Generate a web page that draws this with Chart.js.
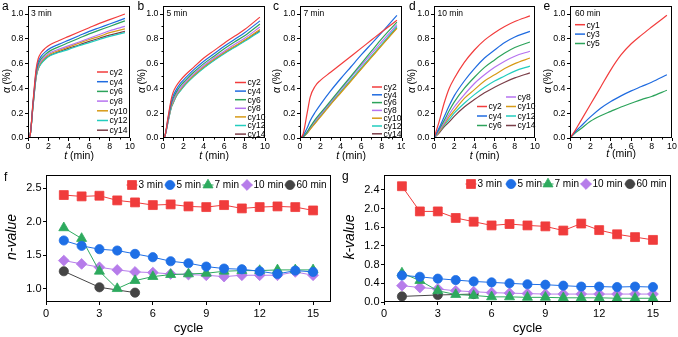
<!DOCTYPE html>
<html><head><meta charset="utf-8">
<script src="https://cdn.jsdelivr.net/npm/chart.js@4.4.1/dist/chart.umd.min.js"></script>
<style>
html,body{margin:0;padding:0;background:#fff;}
#wrap{position:relative;width:678px;height:337px;overflow:hidden;background:#fff;}
canvas{position:absolute;}
</style></head><body><div id="wrap"></div>
<script>
// ---------------- DATA ----------------
const cyLabels = ['cy2','cy4','cy6','cy8','cy10','cy12','cy14'];
const eLabels = ['cy1','cy3','cy5'];
const tickX10 = [0,2,4,6,8,10];
const minorX10 = [1,3,5,7,9];
const tickAlpha = [0,0.2,0.4,0.6,0.8,1.0];
const minorAlpha = [0.1,0.3,0.5,0.7,0.9];

// panel a (3 min)
const tA = [0,0.2,0.5,0.8,1.0,1.3,1.7,2.2,3,4,5,6,7,8,9.5];
const aCy2  = [0,0.02,0.30,0.56,0.64,0.69,0.725,0.755,0.785,0.82,0.855,0.89,0.925,0.955,1.0];
const aCy4  = [0,0.02,0.29,0.54,0.615,0.66,0.695,0.725,0.755,0.79,0.825,0.86,0.89,0.92,0.965];
const aCy6  = [0,0.02,0.28,0.525,0.595,0.64,0.675,0.705,0.735,0.77,0.805,0.84,0.87,0.90,0.945];
const aCy8  = [0,0.02,0.275,0.51,0.58,0.625,0.66,0.69,0.715,0.745,0.775,0.805,0.835,0.865,0.90];
const aCy10 = [0,0.02,0.27,0.50,0.57,0.615,0.65,0.68,0.705,0.735,0.765,0.795,0.82,0.85,0.88];
const aCy12 = [0,0.02,0.26,0.49,0.555,0.60,0.635,0.665,0.69,0.715,0.745,0.77,0.795,0.82,0.85];
const aCy14 = [0,0.02,0.265,0.495,0.56,0.605,0.64,0.67,0.695,0.725,0.75,0.78,0.805,0.83,0.86];

// panel b (5 min)
const tB = [0,0.2,0.5,0.8,1.0,1.3,1.7,2.2,3,4,5,6,7,8,9.5];
const bCy2  = [0,0.02,0.17,0.31,0.37,0.42,0.465,0.51,0.57,0.645,0.705,0.765,0.82,0.875,0.975];
const bCy4  = [0,0.02,0.16,0.29,0.34,0.39,0.44,0.485,0.55,0.62,0.68,0.74,0.795,0.85,0.945];
const bCy6  = [0,0.02,0.15,0.27,0.32,0.37,0.42,0.465,0.53,0.60,0.66,0.72,0.775,0.825,0.92];
const bCy8  = [0,0.02,0.14,0.26,0.30,0.355,0.40,0.45,0.515,0.585,0.645,0.70,0.755,0.805,0.895];
const bCy10 = [0,0.02,0.14,0.25,0.29,0.345,0.39,0.44,0.505,0.575,0.635,0.69,0.74,0.79,0.875];
const bCy12 = [0,0.02,0.13,0.24,0.28,0.335,0.38,0.43,0.495,0.565,0.625,0.68,0.73,0.78,0.86];
const bCy14 = [0,0.02,0.135,0.245,0.285,0.34,0.385,0.435,0.50,0.57,0.63,0.685,0.735,0.785,0.865];

// panel c (7 min)
const tC = [0,0.3,0.7,1,1.5,2,3,4,5,6,7,8,9.5];
const cCy2  = [0,0.03,0.20,0.33,0.42,0.465,0.53,0.595,0.66,0.725,0.79,0.855,0.95];
const cCy4  = [0,0.02,0.08,0.14,0.21,0.27,0.38,0.48,0.575,0.67,0.76,0.85,0.99];
const cCy6  = [0,0.01,0.05,0.09,0.15,0.20,0.30,0.40,0.50,0.60,0.70,0.80,0.935];
const cCy8  = [0,0.01,0.05,0.085,0.14,0.19,0.29,0.39,0.49,0.585,0.68,0.775,0.915];
const cCy10 = [0,0.01,0.04,0.07,0.12,0.17,0.27,0.365,0.46,0.555,0.65,0.745,0.885];
const cCy12 = [0,0.01,0.045,0.08,0.13,0.18,0.28,0.375,0.47,0.565,0.66,0.755,0.90];
const cCy14 = [0,0.01,0.04,0.075,0.125,0.175,0.275,0.37,0.465,0.56,0.655,0.75,0.89];

// panel d (10 min)
const tD = [0,0.5,1,1.5,2,3,4,5,6,7,8,9.5];
const dCy2  = [0,0.13,0.28,0.40,0.48,0.61,0.71,0.79,0.85,0.90,0.94,0.985];
const dCy4  = [0,0.08,0.17,0.26,0.34,0.46,0.56,0.645,0.71,0.77,0.815,0.86];
const dCy6  = [0,0.07,0.14,0.22,0.29,0.40,0.49,0.57,0.63,0.685,0.73,0.775];
const dCy8  = [0,0.06,0.12,0.19,0.25,0.35,0.44,0.51,0.57,0.62,0.66,0.70];
const dCy10 = [0,0.05,0.11,0.17,0.22,0.32,0.39,0.46,0.51,0.56,0.60,0.645];
const dCy12 = [0,0.05,0.10,0.15,0.20,0.28,0.35,0.41,0.46,0.50,0.54,0.58];
const dCy14 = [0,0.04,0.09,0.13,0.175,0.25,0.31,0.365,0.41,0.45,0.485,0.525];

// panel e (60 min)
const tE = [0,0.5,1,2,3,4,5,6,7,8,9.5];
const eCy1 = [0,0.06,0.13,0.27,0.41,0.55,0.67,0.76,0.83,0.895,0.99];
const eCy3 = [0,0.05,0.09,0.17,0.24,0.295,0.34,0.38,0.415,0.45,0.51];
const eCy5 = [0,0.04,0.07,0.135,0.18,0.215,0.25,0.28,0.31,0.335,0.385];

// panels f, g
const seriesLabels = ['3 min','5 min','7 min','10 min','60 min'];
const cycles = [1,2,3,4,5,6,7,8,9,10,11,12,13,14,15];
const cycles60 = [1,3,5];
const tickCycle = [0,3,6,9,12,15];
const nVal3  = [2.40,2.38,2.39,2.32,2.29,2.25,2.26,2.23,2.22,2.25,2.20,2.22,2.23,2.22,2.17];
const nVal5  = [1.72,1.64,1.59,1.57,1.52,1.47,1.41,1.38,1.33,1.30,1.29,1.26,1.22,1.27,1.25];
const nVal7  = [1.91,1.75,1.26,1.00,1.12,1.18,1.21,1.22,1.23,1.26,1.27,1.27,1.28,1.28,1.28];
const nVal10 = [1.42,1.37,1.32,1.28,1.25,1.24,1.22,1.21,1.20,1.18,1.20,1.20,1.20,1.25,1.20];
const nVal60 = [1.26,1.02,0.94];
const tickN = [1.0,1.5,2.0,2.5];
const kVal3  = [2.48,1.94,1.94,1.80,1.72,1.64,1.67,1.64,1.62,1.53,1.68,1.54,1.45,1.39,1.33];
const kVal5  = [0.57,0.54,0.50,0.47,0.44,0.42,0.40,0.38,0.37,0.35,0.33,0.33,0.32,0.33,0.32];
const kVal7  = [0.62,0.46,0.24,0.16,0.14,0.11,0.11,0.10,0.10,0.09,0.09,0.09,0.08,0.08,0.08];
const kVal10 = [0.35,0.31,0.28,0.24,0.22,0.20,0.19,0.18,0.17,0.17,0.17,0.17,0.17,0.17,0.17];
const kVal60 = [0.12,0.15,0.17];
const tickK = [0,0.4,0.8,1.2,1.6,2.0,2.4];

// ---------------- STYLE ----------------
const FONT = "'Liberation Sans', Arial, Helvetica, sans-serif";
const cyColors = ['#F23C3C','#1F6BE0','#2CA35B','#B673F0','#D79A16','#22CDBE','#7A3E48'];
const eColors = ['#F23C3C','#1F6BE0','#2CA35B'];
const fgColors = ['#F03C3C','#1E6FE6','#2DAA5E','#B67CEA','#454545'];
const fgStyles = ['rect','circle','triangle','rectRot','circle'];
const fgRadius = [6.3,4.6,5.8,5.4,4.6];

const wrap = document.getElementById('wrap');

function curveSets(tArr, series, labels, colors){
  return series.map((s,i)=>({
    label: labels[i],
    data: tArr.map((t,j)=>({x:t, y:s[j]})),
    borderColor: colors[i], backgroundColor: colors[i],
    borderWidth: 1.2, pointRadius: 0, fill:false,
    cubicInterpolationMode: 'monotone'
  }));
}
function markerSets(xsList, series){
  return series.map((s,i)=>({
    label: seriesLabels[i],
    data: xsList[i].map((c,j)=>({x:c, y:s[j]})),
    borderColor: fgColors[i], backgroundColor: fgColors[i],
    borderWidth: 1, pointStyle: fgStyles[i], pointRadius: fgRadius[i],
    pointBorderWidth: 0.8, tension: 0, fill:false
  }));
}

function drawParts(ctx, parts, x, y, size, rotate){
  const widths = parts.map(p=>{ctx.font=(p.i?'italic ':'')+size+'px '+FONT; return ctx.measureText(p.t).width;});
  const total = widths.reduce((a,b)=>a+b,0);
  ctx.save(); ctx.translate(x,y); if(rotate) ctx.rotate(-Math.PI/2);
  ctx.textBaseline='middle'; ctx.textAlign='left'; ctx.fillStyle='#000';
  let cx = -total/2;
  parts.forEach((p,k)=>{ctx.font=(p.i?'italic ':'')+size+'px '+FONT; ctx.fillText(p.t,cx,0); cx+=widths[k];});
  ctx.restore();
}

function drawMarker(ctx, style, r, x, y, color){
  const H = Chart.helpers;
  if (H && H.drawPoint){
    ctx.save(); ctx.fillStyle=color; ctx.strokeStyle=color; ctx.lineWidth=0.8;
    H.drawPoint(ctx,{pointStyle:style, radius:r, rotation:0, borderWidth:0.8},x,y);
    ctx.restore();
  } else {
    ctx.save(); ctx.fillStyle=color; ctx.beginPath(); ctx.arc(x,y,r,0,Math.PI*2); ctx.fill(); ctx.restore();
  }
}

function makeDecor(d){
  return {
    id:'decor',
    afterDraw(chart){
      const ctx = chart.ctx, a = chart.chartArea;
      ctx.save();
      // frame
      ctx.strokeStyle='#000'; ctx.lineWidth=1;
      const L=Math.round(a.left)+0.5, T=Math.round(a.top)+0.5, R=Math.round(a.right)-0.5, B=Math.round(a.bottom)-0.5;
      ctx.strokeRect(L,T,R-L,B-T);
      // minor ticks (outward)
      if(d.minor){
        ctx.beginPath();
        d.minor.x.forEach(v=>{const px=Math.round(chart.scales.x.getPixelForValue(v))+0.5; ctx.moveTo(px,B); ctx.lineTo(px,B+2);});
        d.minor.y.forEach(v=>{const py=Math.round(chart.scales.y.getPixelForValue(v))+0.5; ctx.moveTo(L,py); ctx.lineTo(L-2,py);});
        ctx.stroke();
      }
      // letter
      ctx.fillStyle='#000'; ctx.textAlign='left'; ctx.textBaseline='alphabetic';
      ctx.font=d.letter.size+'px '+FONT; ctx.fillText(d.letter.t,d.letter.x,d.letter.y);
      // note
      if(d.note){ ctx.font=d.note.size+'px '+FONT; ctx.textBaseline='middle'; ctx.fillText(d.note.t,d.note.x,d.note.y); }
      // titles
      drawParts(ctx,d.xTitle.parts,(a.left+a.right)/2,d.xTitle.y,d.xTitle.size,false);
      drawParts(ctx,d.yTitle.parts,d.yTitle.x,d.yTitle.y,d.yTitle.size,true);
      // legend
      const ds = chart.data.datasets;
      if(d.lineLegend){
        const lg=d.lineLegend;
        ctx.font=lg.size+'px '+FONT; ctx.textBaseline='middle'; ctx.textAlign='left';
        lg.items.forEach(it=>{
          const s=ds[it.i];
          ctx.strokeStyle=s.borderColor; ctx.lineWidth=1.5;
          ctx.beginPath(); ctx.moveTo(it.x,it.y); ctx.lineTo(it.x+lg.len,it.y); ctx.stroke();
          ctx.fillStyle='#000'; ctx.fillText(s.label,it.x+lg.len+1.5,it.y+0.5);
        });
      }
      if(d.markLegend){
        const lg=d.markLegend;
        ctx.font=lg.size+'px '+FONT; ctx.textBaseline='middle'; ctx.textAlign='left';
        lg.xs.forEach((mx,i)=>{
          const s=ds[i];
          ctx.strokeStyle=s.borderColor; ctx.lineWidth=1;
          ctx.beginPath(); ctx.moveTo(mx-5.5,lg.y); ctx.lineTo(mx+5.5,lg.y); ctx.stroke();
          drawMarker(ctx,s.pointStyle,s.pointRadius,mx,lg.y,s.borderColor);
          ctx.fillStyle='#000'; ctx.fillText(s.label,mx+6.5,lg.y+0.5);
        });
      }
      ctx.restore();
    }
  };
}

function makeChart(box, frame, cfg){
  const c=document.createElement('canvas');
  c.width=box.w; c.height=box.h;
  c.style.left=box.x+'px'; c.style.top=box.y+'px';
  c.style.width=box.w+'px'; c.style.height=box.h+'px';
  wrap.appendChild(c);
  const yW=frame.l-box.x, xH=box.y+box.h-frame.b;
  const tl=cfg.tickLen;
  new Chart(c,{
    type:'line',
    data:{datasets:cfg.datasets},
    options:{
      responsive:false, animation:false, devicePixelRatio:1,
      layout:{padding:{top:frame.t-box.y,right:box.x+box.w-frame.r,left:0,bottom:0}},
      plugins:{legend:{display:false},tooltip:{enabled:false}},
      scales:{
        x:{type:'linear',min:cfg.x.min,max:cfg.x.max,
          afterBuildTicks:s=>{s.ticks=cfg.x.ticks.map(v=>({value:v}));},
          ticks:{font:{family:FONT,size:cfg.tickFont},color:'#000',padding:cfg.xPad,maxRotation:0,autoSkip:false,
                 callback:v=>cfg.x.fmt(v)},
          grid:{drawOnChartArea:false,drawTicks:true,tickLength:tl,color:'#000',lineWidth:1},
          border:{display:false},
          afterFit:s=>{s.height=xH;s.paddingLeft=0;s.paddingRight=0;}},
        y:{type:'linear',min:cfg.y.min,max:cfg.y.max,
          afterBuildTicks:s=>{s.ticks=cfg.y.ticks.map(v=>({value:v}));},
          ticks:{font:{family:FONT,size:cfg.tickFont},color:'#000',padding:cfg.yPad,autoSkip:false,
                 callback:v=>cfg.y.fmt(v)},
          grid:{drawOnChartArea:false,drawTicks:true,tickLength:tl,color:'#000',lineWidth:1},
          border:{display:false},
          afterFit:s=>{s.width=yW;s.paddingTop=0;s.paddingBottom=0;}}
      }
    },
    plugins:[makeDecor(cfg.decor)]
  });
}

const fmt1=v=>Number(v).toFixed(1);
const fmt0=v=>String(Math.round(v));
const alphaTitle=[{t:'α',i:true},{t:' (%)',i:false}];
const tTitle=[{t:'t',i:true},{t:' (min)',i:false}];

function smallPanel(box, frame, datasets, letter, note, legend, extra){
  const d={
    letter:{t:letter.t,x:letter.x,y:9.5,size:12},
    note: note? {t:note.t,x:note.x,y:14,size:8.5}:null,
    xTitle:{parts:tTitle,y:extra&&extra.xTy?extra.xTy:156,size:10.5},
    yTitle:{parts:alphaTitle,x:extra&&extra.yTx?extra.yTx:7.5,y:81,size:10},
    lineLegend:legend,
    minor:{x:minorX10,y:minorAlpha}
  };
  makeChart(box,frame,{datasets,tickLen:3,tickFont:8.8,xPad:0,yPad:1.5,
    x:{min:0,max:10,ticks:tickX10,fmt:fmt0},
    y:{min:0,max:1.065,ticks:tickAlpha,fmt:fmt1},
    decor:d});
}

function colLegend(x,y0,dy,n){
  const items=[]; for(let i=0;i<n;i++) items.push({i,x,y:y0+i*dy}); return items;
}

// a
smallPanel({x:0,y:0,w:135,h:165},{l:28,r:130,t:6,b:138},
  curveSets(tA,[aCy2,aCy4,aCy6,aCy8,aCy10,aCy12,aCy14],cyLabels,cyColors),
  {t:'a',x:2},{t:'3 min',x:31},
  {size:8.5,len:11,items:colLegend(97,72,9.7,7)});
// b
smallPanel({x:135,y:0,w:135,h:165},{l:163,r:265,t:6,b:138},
  curveSets(tB,[bCy2,bCy4,bCy6,bCy8,bCy10,bCy12,bCy14],cyLabels,cyColors),
  {t:'b',x:2.5},{t:'5 min',x:31.5},
  {size:8.5,len:11,items:colLegend(100,82.5,8.6,7)});
// c
smallPanel({x:270,y:0,w:135,h:165},{l:300,r:402,t:6,b:138},
  curveSets(tC,[cCy2,cCy4,cCy6,cCy8,cCy10,cCy12,cCy14],cyLabels,cyColors),
  {t:'c',x:3},{t:'7 min',x:33.5},
  {size:8.5,len:10,items:colLegend(102,87,7.8,7)},{yTx:7});
// d
smallPanel({x:405,y:0,w:135,h:165},{l:434,r:535,t:6,b:138},
  curveSets(tD,[dCy2,dCy4,dCy6,dCy8,dCy10,dCy12,dCy14],cyLabels,cyColors),
  {t:'d',x:4},{t:'10 min',x:32.5},
  {size:8.5,len:10,items:[
    {i:0,x:72,y:106.5},{i:1,x:72,y:116},{i:2,x:72,y:125.5},
    {i:3,x:101,y:97},{i:4,x:101,y:106.5},{i:5,x:101,y:116},{i:6,x:101,y:125.5}]},{yTx:7.5});
// e
smallPanel({x:540,y:0,w:138,h:165},{l:570,r:672,t:6,b:138},
  curveSets(tE,[eCy1,eCy3,eCy5],eLabels,eColors),
  {t:'e',x:3.5},{t:'60 min',x:35},
  {size:8.5,len:10,items:colLegend(35,24.7,9.4,3)},{yTx:8,xTy:154});

// f
makeChart({x:0,y:165,w:338,h:172},{l:46,r:333,t:175,b:302},{
  datasets:markerSets([cycles,cycles,cycles,cycles,cycles60],[nVal3,nVal5,nVal7,nVal10,nVal60]),
  tickLen:3,tickFont:11,xPad:2,yPad:1.5,
  x:{min:0,max:16,ticks:tickCycle,fmt:fmt0},
  y:{min:0.8,max:2.7,ticks:tickN,fmt:fmt1},
  decor:{
    letter:{t:'f',x:4,y:16,size:12},
    xTitle:{parts:[{t:'cycle',i:false}],y:163,size:13},
    yTitle:{parts:[{t:'n-value',i:true}],x:12,y:72,size:14},
    markLegend:{size:10,y:20,xs:[132,170,208,247,290]}
  }
});
// g
makeChart({x:338,y:165,w:340,h:172},{l:384,r:671,t:175,b:302},{
  datasets:markerSets([cycles,cycles,cycles,cycles,cycles60],[kVal3,kVal5,kVal7,kVal10,kVal60]),
  tickLen:3,tickFont:11,xPad:2,yPad:1.5,
  x:{min:0,max:16,ticks:tickCycle,fmt:fmt0},
  y:{min:0,max:2.72,ticks:tickK,fmt:fmt1},
  decor:{
    letter:{t:'g',x:4,y:15,size:12},
    xTitle:{parts:[{t:'cycle',i:false}],y:163,size:13},
    yTitle:{parts:[{t:'k-value',i:true}],x:12,y:72,size:14},
    markLegend:{size:10,y:19,xs:[133,173,210,248,292]}
  }
});
</script></body></html>
